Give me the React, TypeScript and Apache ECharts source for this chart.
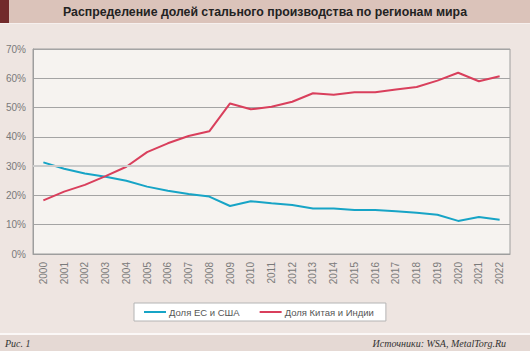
import React, { useEffect, useRef } from "react";
import * as echarts from "echarts";

const years = ["2000","2001","2002","2003","2004","2005","2006","2007","2008","2009","2010","2011","2012","2013","2014","2015","2016","2017","2018","2019","2020","2021","2022"];
const euUsShare = [31.3,29.1,27.5,26.4,25.0,23.0,21.6,20.5,19.6,16.4,18.0,17.3,16.7,15.5,15.5,15.0,15.0,14.6,14.1,13.4,11.3,12.6,11.7];
const chinaIndiaShare = [18.3,21.3,23.6,26.6,29.8,34.8,37.8,40.3,41.9,51.4,49.4,50.3,52.0,54.9,54.4,55.2,55.2,56.2,57.0,59.2,61.9,59.0,60.7];
const seriesNames = ["Доля ЕС и США", "Доля Китая и Индии"];
const title = "Распределение долей стального производства по регионам мира";
const figLabel = "Рис. 1";
const sourceLabel = "Источники: WSA, MetalTorg.Ru";

export default function App() {
  const ref = useRef<HTMLDivElement>(null);
  useEffect(() => {
    if (!ref.current) return;
    const chart = echarts.init(ref.current, null, { renderer: "svg" });
    const sans = "Liberation Sans, Arial, sans-serif";
    const serif = "Liberation Serif, DejaVu Serif, serif";
    chart.setOption({
      animation: false,
      backgroundColor: "#eee5e1",
      grid: {
        left: 33, right: 20, top: 49, bottom: 97,
        show: true, backgroundColor: "#f6f3f0", borderColor: "#9e9e9e", borderWidth: 1,
      },
      xAxis: {
        type: "category",
        data: years,
        boundaryGap: true,
        axisLine: { lineStyle: { color: "#9e9e9e" } },
        axisTick: { alignWithLabel: true, length: 5, lineStyle: { color: "#9e9e9e" } },
        axisLabel: { rotate: 90, fontSize: 10, color: "#7a7a7a", fontFamily: sans, margin: 8 },
      },
      yAxis: {
        type: "value",
        min: 0, max: 70, interval: 10,
        axisLine: { show: true, lineStyle: { color: "#9e9e9e" } },
        axisTick: { show: false },
        axisLabel: { formatter: "{value}%", fontSize: 10, color: "#7a7a7a", fontFamily: sans, margin: 7 },
        splitLine: { lineStyle: { color: "#a4a4a4", width: 1 } },
      },
      legend: {
        data: seriesNames,
        left: 134, top: 303,
        orient: "horizontal",
        backgroundColor: "#ffffff",
        borderColor: "#b4b4b4", borderWidth: 1,
        padding: [4, 12, 4, 10],
        itemGap: 20, itemWidth: 22, itemHeight: 2,
        icon: "rect",
        textStyle: { fontSize: 9.5, color: "#555", fontFamily: sans, padding: [0, 0, 0, -2] },
      },
      graphic: [
        { type: "rect", left: 0, top: 0, shape: { width: 530, height: 23 }, style: { fill: "#dbc3ba" } },
        { type: "rect", left: 0, top: 0, shape: { width: 9, height: 23 }, style: { fill: "#722a2b" } },
        { type: "rect", left: 0, top: 23, shape: { width: 530, height: 1 }, style: { fill: "#f6f0ee" } },
        { type: "text", x: 265, y: 12, style: { text: title, fill: "#222", font: "bold 12.3px " + sans, textAlign: "center", textVerticalAlign: "middle" } },
        { type: "rect", left: 0, top: 333, shape: { width: 530, height: 2 }, style: { fill: "#fbf8f7" } },
        { type: "rect", left: 0, top: 335, shape: { width: 530, height: 16 }, style: { fill: "#e5d9d4" } },
        { type: "text", x: 5, y: 343, style: { text: figLabel, fill: "#333", font: "italic 10px " + serif, textAlign: "left", textVerticalAlign: "middle" } },
        { type: "text", x: 506, y: 343, style: { text: sourceLabel, fill: "#333", font: "italic 10px " + serif, textAlign: "right", textVerticalAlign: "middle" } },
      ],
      series: [
        {
          name: "_ref", type: "line", data: years.map(() => null), z: 1, silent: true,
          markLine: {
            silent: true, symbol: "none", label: { show: false },
            lineStyle: { color: "#cbcbcb", width: 2, type: "solid" },
            data: [{ yAxis: 30 }],
          },
        },
        {
          name: seriesNames[0], type: "line", data: euUsShare, showSymbol: false, symbol: "none", z: 3,
          lineStyle: { color: "#17a4c6", width: 2 }, itemStyle: { color: "#17a4c6" },
        },
        {
          name: seriesNames[1], type: "line", data: chinaIndiaShare, showSymbol: false, symbol: "none", z: 3,
          lineStyle: { color: "#d93f5c", width: 2 }, itemStyle: { color: "#d93f5c" },
        },
      ],
    });
    return () => chart.dispose();
  }, []);
  return <div ref={ref} style={{ position: "fixed", left: 0, top: 0, width: 530, height: 351 }} />;
}
